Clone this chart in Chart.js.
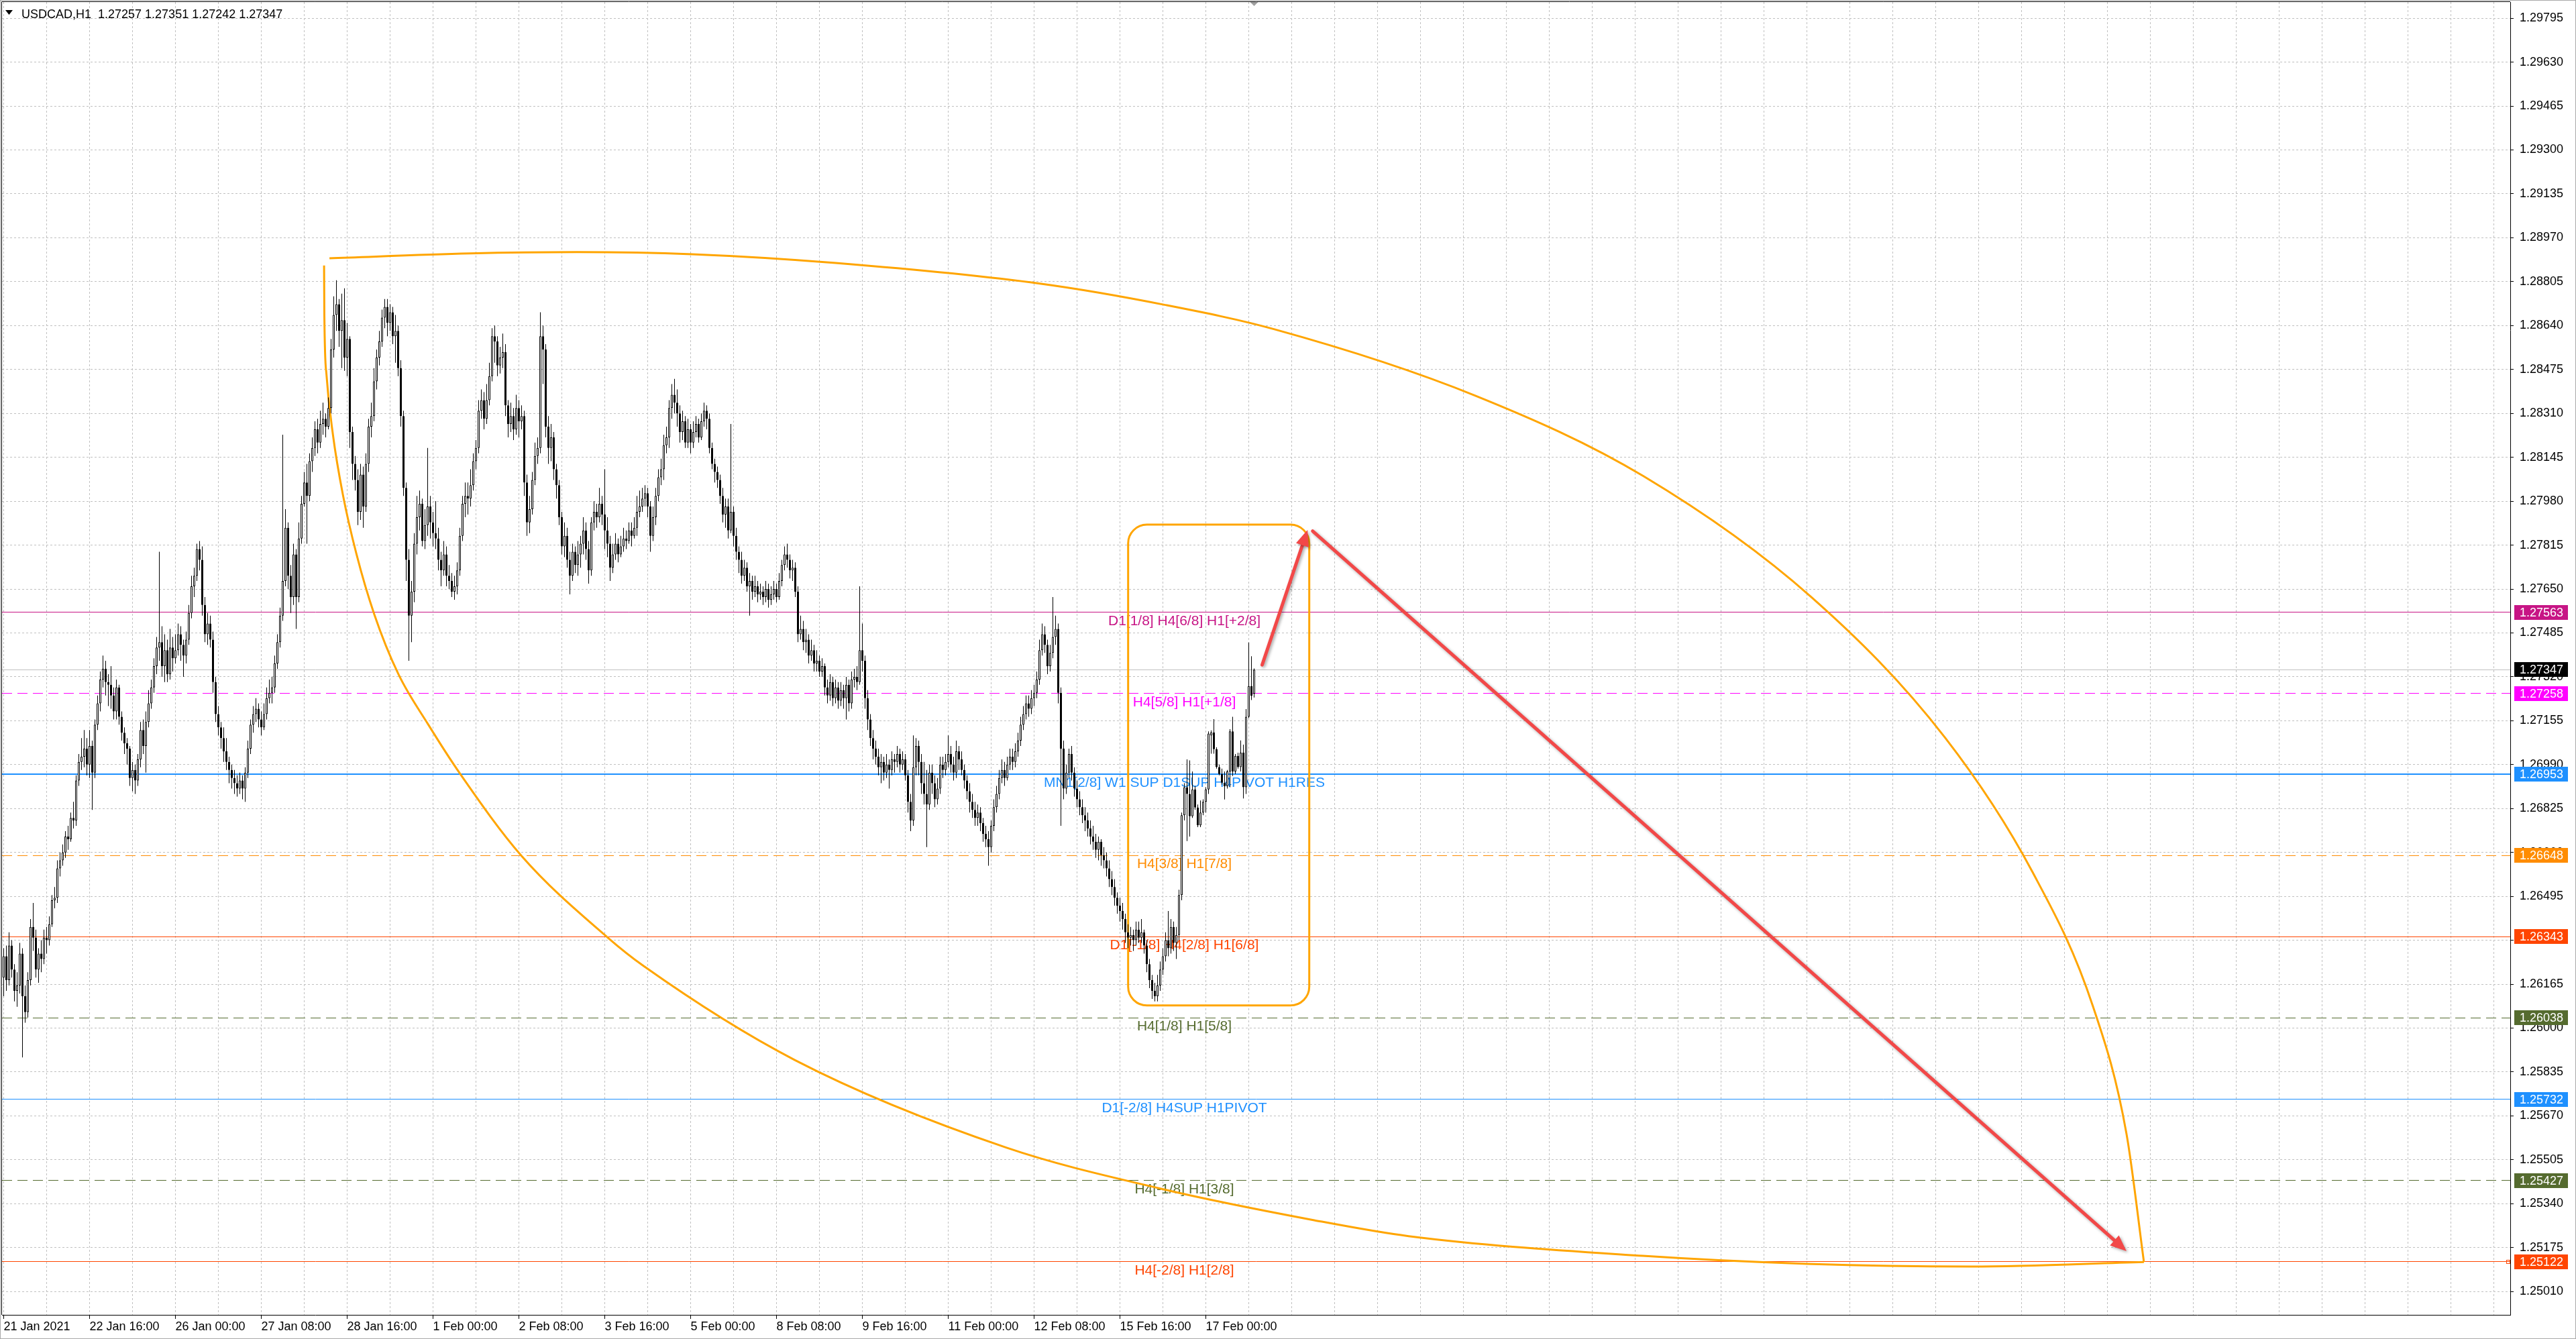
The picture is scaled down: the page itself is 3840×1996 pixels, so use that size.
<!DOCTYPE html>
<html><head><meta charset="utf-8">
<style>html,body{margin:0;padding:0;background:#fff;overflow:hidden}canvas{display:block}</style>
<script src="https://cdn.jsdelivr.net/npm/chart.js@4/dist/chart.umd.min.js"></script>
</head><body>
<canvas id="c" width="3840" height="1996"></canvas>
<script>
// ---------------- DATA ----------------
const SYMBOL = 'USDCAD,H1';
const PRICE_BASE = 1.25, PIP = 0.0001;   // candle values below are pips above 1.2500
const openPips = [
119,127,118,131,122,114,116,128,112,106,118,138,134,122,128,126,134,133,139,148,
149,160,163,166,172,171,179,178,193,200,202,205,199,206,196,214,222,231,235,230,
229,225,219,228,217,211,207,205,194,197,193,201,212,206,215,222,228,236,243,245,
236,242,233,243,239,242,248,244,240,246,256,266,270,280,276,259,248,252,246,230,
218,213,209,204,200,197,194,192,190,193,190,196,205,214,218,220,216,213,218,224,
226,228,237,245,255,268,288,270,262,278,262,284,297,305,300,313,318,325,320,327,
329,326,333,355,368,372,362,366,352,359,324,312,306,294,308,296,312,326,330,343,
352,358,367,371,365,369,360,362,348,330,303,276,255,264,282,292,297,283,289,296,
290,286,284,276,272,278,270,268,264,266,272,285,297,300,299,304,313,318,332,336,
329,336,345,360,358,349,352,354,334,327,330,325,333,328,330,305,290,295,306,315,
318,360,355,326,318,322,310,304,292,281,285,276,270,279,274,278,282,287,280,272,
290,294,292,297,293,287,282,273,278,282,278,281,284,283,287,285,288,294,296,299,
301,296,285,292,300,307,310,319,322,333,338,335,331,324,328,320,325,320,324,327,
322,328,332,329,318,312,309,306,300,293,296,287,294,285,279,276,270,273,266,268,
264,266,263,264,262,265,261,263,265,262,268,274,278,276,272,273,264,248,250,245,
246,240,242,237,238,234,236,228,225,230,224,228,223,227,224,229,222,231,232,230,
242,238,224,216,209,205,202,198,200,196,199,197,201,200,203,199,201,195,185,178,
198,206,200,192,188,184,196,192,186,190,199,197,200,203,199,196,204,201,197,193,
189,185,182,179,181,177,173,171,168,176,183,188,194,197,194,199,202,200,204,208,
214,218,222,220,224,226,231,242,248,244,236,241,247,250,226,205,190,196,203,196,
190,186,183,180,178,175,172,170,167,170,165,163,160,156,153,149,146,144,141,136,
134,135,133,137,134,136,131,124,118,114,112,116,122,127,133,130,138,132,135,150,
180,190.5,188,179.6,189.7,182.9,176.2,181,185,189.7,210,211.1,204.8,198.1,195.5,192.2,190.9,196.4,211.5,196.4,
202.3,198.1,203.5,190.5,217,228.5,225.7];
const highPips = [
130,131,136,133,124,121,132,130,116,121,141,147,137,130,133,137,138,142,150,153,
163,166,169,174,176,181,185,195,203,209,212,209,212,208,216,225,234,240,238,233,
236,228,231,229,219,213,209,206,200,199,203,215,216,219,227,231,239,247,279,251,
248,246,250,247,248,252,251,246,249,259,270,273,282,283,281,262,256,255,249,232,
221,215,213,209,202,199,197,195,196,195,198,208,216,221,224,222,219,222,228,231,
232,240,248,258,323,295,290,274,282,280,290,300,309,312,316,322,328,329,332,335,
331,337,359,375,381,374,376,378,365,360,326,315,310,312,311,316,329,335,348,355,
362,370,374,374,372,371,368,364,351,332,305,280,268,286,300,302,299,295,318,300,
294,298,288,279,283,281,274,271,270,275,288,300,305,305,310,316,321,336,340,339,
342,350,363,364,360,356,361,357,336,335,333,338,336,334,332,308,300,309,320,322,
369,364,357,330,327,324,312,306,294,290,288,279,282,281,283,285,292,290,283,292,
298,297,303,300,310,292,285,282,286,284,285,288,287,290,290,292,300,302,303,304,
303,298,296,303,310,314,323,326,336,342,344,340,334,332,330,329,327,328,330,329,
331,335,334,331,320,314,311,308,303,299,299,327,296,288,281,279,276,275,271,270,
270,268,267,266,268,267,266,268,267,271,276,281,282,278,276,275,266,255,253,250,
248,246,244,242,240,239,237,231,233,232,231,230,230,229,232,231,234,235,236,266,
252,240,227,218,212,208,205,203,202,203,201,204,203,206,205,204,203,197,188,210,
209,208,203,200,197,199,199,195,194,202,202,203,210,206,202,208,206,204,199,195,
192,188,185,184,183,179,176,174,178,186,191,197,201,200,202,205,205,207,211,217,
221,225,225,227,229,234,246,252,251,246,244,262,255,252,228,208,199,205,206,198,
193,189,186,183,181,178,176,173,172,171,168,166,163,159,156,151,149,147,143,139,
138,137,140,140,141,137,133,126,120,117,120,125,130,136,144,141,140,138,152,181,
192,201,200.6,196.4,191,184,185.5,186,190.5,211.5,211.9,216.1,205.5,199,197.5,196.4,197,212.3,217,203,
203.5,208.1,206.5,219.9,244.9,239.7,235.1];
const lowPips = [
112,114,116,119,110,108,113,89,102,104,116,129,119,117,121,124,128,131,138,145,
147,157,161,164,167,170,175,176,191,197,198,195,194,182,194,212,219,228,225,221,
220,216,216,214,208,203,199,191,189,188,191,198,203,196,213,220,226,233,238,232,
230,230,231,234,237,240,238,232,237,244,254,262,268,272,255,245,244,243,226,215,
210,205,200,197,192,190,188,187,188,186,185,194,203,211,215,213,210,212,216,222,
222,226,235,243,253,266,265,256,259,250,260,282,296,282,298,309,315,316,318,323,
322,325,331,352,362,356,348,347,345,318,306,302,289,291,288,294,309,322,328,340,
349,356,363,360,362,357,350,345,326,300,268,238,245,260,278,287,281,280,285,284,
281,280,272,266,270,266,265,262,261,263,270,283,292,293,296,302,310,316,329,325,
327,334,343,350,345,346,348,330,322,324,321,323,322,325,300,285,286,293,304,312,
316,342,322,312,313,306,299,289,278,277,273,263,268,271,270,273,278,276,267,270,
287,288,290,289,280,277,268,271,276,275,277,279,280,282,281,284,285,292,294,296,
292,279,283,289,298,304,306,316,318,329,331,326,320,321,318,318,316,318,322,320,
321,326,325,316,310,305,303,297,290,288,284,286,281,276,271,267,268,264,255,261,
262,260,261,259,260,258,259,261,260,261,266,272,273,269,268,262,245,246,242,241,
237,238,234,234,232,232,225,222,223,221,222,220,221,220,216,219,220,228,227,229,
234,220,212,206,201,199,195,192,193,194,190,195,196,198,196,197,193,181,174,176,
195,195,188,184,168,182,188,183,184,188,194,195,198,196,193,194,197,195,190,186,
181,179,176,176,174,170,168,161,166,174,181,186,192,191,193,197,197,198,202,206,
212,216,217,218,221,224,229,240,241,233,234,239,244,222,176,186,188,194,193,187,
183,180,177,174,172,169,167,164,163,161,160,157,153,150,146,143,140,137,132,130,
131,129,131,132,132,128,121,115,111,110,110,114,120,125,127,128,129,126,133,148,
178,170.3,172,179,182,175.5,175.5,180,181,188,203.1,203.1,197.5,195,191.5,185.9,190,190.5,194.7,195.5,
197.5,196.4,186.3,188,216.5,223.3,224.2];
const closePips = [
127,118,131,122,114,116,128,112,106,118,138,134,122,128,126,134,133,139,148,149,
160,163,166,172,171,179,178,193,200,202,205,199,206,196,214,222,231,235,230,229,
225,219,228,217,211,207,205,194,197,193,201,212,206,215,222,228,236,243,245,236,
242,233,243,239,242,248,244,240,246,256,266,270,280,276,259,248,252,246,230,218,
213,209,204,200,197,194,192,190,193,190,196,205,214,218,220,216,213,218,224,226,
228,237,245,255,268,288,270,262,278,262,284,297,305,300,313,318,325,320,327,329,
326,333,355,368,372,362,366,352,359,324,312,306,294,308,296,312,326,330,343,352,
358,367,371,365,369,360,362,348,330,303,276,255,264,282,292,297,283,289,296,290,
286,284,276,272,278,270,268,264,266,272,285,297,300,299,304,313,318,332,336,329,
336,345,360,358,349,352,354,334,327,330,325,333,328,330,305,290,295,306,315,318,
360,355,326,318,322,310,304,292,281,285,276,270,279,274,278,282,287,280,272,290,
294,292,297,293,287,282,273,278,282,278,281,284,283,287,285,288,294,296,299,301,
296,285,292,300,307,310,319,322,333,338,335,331,324,328,320,325,320,324,327,322,
328,332,329,318,312,309,306,300,293,296,287,294,285,279,276,270,273,266,268,264,
266,263,264,262,265,261,263,265,262,268,274,278,276,272,273,264,248,250,245,246,
240,242,237,238,234,236,228,225,230,224,228,223,227,224,229,222,231,232,230,242,
238,224,216,209,205,202,198,200,196,199,197,201,200,203,199,201,195,185,178,198,
206,200,192,188,184,196,192,186,190,199,197,200,203,199,196,204,201,197,193,189,
185,182,179,181,177,173,171,168,176,183,188,194,197,194,199,202,200,204,208,214,
218,222,220,224,226,231,242,248,244,236,241,247,250,226,205,190,196,203,196,190,
186,183,180,178,175,172,170,167,170,165,163,160,156,153,149,146,144,141,136,134,
135,133,137,134,136,131,124,118,114,112,116,122,127,133,130,138,132,135,150,180,
190.5,188,179.6,189.7,182.9,176.2,181,185,189.7,210.7,211.1,204.8,198.1,195.5,192.2,190.9,196.4,211.5,196.4,202.3,
198.1,203.5,190.5,217,228.5,224.9,234.7];

const timeLabels = ['21 Jan 2021','22 Jan 16:00','26 Jan 00:00','27 Jan 08:00','28 Jan 16:00','1 Feb 00:00',
  '2 Feb 08:00','3 Feb 16:00','5 Feb 00:00','8 Feb 08:00','9 Feb 16:00','11 Feb 00:00','12 Feb 08:00',
  '15 Feb 16:00','17 Feb 00:00'];
const BARS_PER_LABEL = 32, BARS_PER_GRID = 16;
const priceTicks = [1.25010,1.25175,1.25340,1.25505,1.25670,1.25835,1.26000,1.26165,1.26330,1.26495,
  1.26660,1.26825,1.26990,1.27155,1.27320,1.27485,1.27650,1.27815,1.27980,1.28145,1.28310,1.28475,
  1.28640,1.28805,1.28970,1.29135,1.29300,1.29465,1.29630,1.29795];

// horizontal level objects
const levelPrices = [1.27563, 1.27258, 1.26953, 1.26648, 1.26343, 1.26038, 1.25732, 1.25427, 1.25122];
const levelTexts = ['D1[1/8] H4[6/8] H1[+2/8]', 'H4[5/8] H1[+1/8]', 'MN1[2/8] W1 SUP D1SUP H4PIVOT H1RES',
  'H4[3/8] H1[7/8]', 'D1[-1/8] H4[2/8] H1[6/8]', 'H4[1/8] H1[5/8]', 'D1[-2/8] H4SUP H1PIVOT',
  'H4[-1/8] H1[3/8]', 'H4[-2/8] H1[2/8]'];
const LEVEL_TEXT_BAR = 440;

// drawn objects (bar index, price)
const boxBars = [419.05, 486.55];
const boxPrices = [1.27892, 1.26085];
const arrowFromBars = [469.0, 487.8];
const arrowFromPrices = [1.27365, 1.27868];
const arrowToBars = [485.9, 791.1];
const arrowToPrices = [1.27872, 1.25162];
const topCurveBars = [121.4, 173.6, 213.6, 256.6, 310.1, 386.6, 432.6, 473.6, 548.6, 611.1, 673.6, 723.6, 756.1, 778.6, 791.1, 797.6];
const topCurvePrices = [1.28893, 1.28911, 1.28916, 1.28908, 1.28875, 1.28797, 1.28718, 1.28626, 1.28376, 1.28074, 1.27620, 1.27090, 1.26586, 1.26082, 1.25603, 1.25121];
const bottomCurveBars = [119.4, 119.5, 120.3, 122.7, 126.4, 131.5, 138.1, 147.1, 158.2, 170.0, 192.9, 225.1, 238.5, 294.8, 373.6, 431.0, 488.4, 523.6, 610.9, 672.1, 733.4, 797.6];
const bottomCurvePrices = [1.28866, 1.28681, 1.28455, 1.28230, 1.28005, 1.27780, 1.27555, 1.27330, 1.27141, 1.26957, 1.26648, 1.26340, 1.26233, 1.25880, 1.25551, 1.25397, 1.25278, 1.25218, 1.25144, 1.25114, 1.25104, 1.25121];

// ---------------- STYLES ----------------
const FONT = '"Liberation Sans", Arial, sans-serif';
const levelStyles = [
  {color:'#C71585', width:1, dash:[]},
  {color:'#FF00FF', width:1, dash:[15,8]},
  {color:'#1E90FF', width:2, dash:[]},
  {color:'#FF8C00', width:1, dash:[15,8]},
  {color:'#FF4500', width:1, dash:[]},
  {color:'#556B2F', width:1, dash:[15,8]},
  {color:'#1E90FF', width:1, dash:[]},
  {color:'#556B2F', width:1, dash:[15,8]},
  {color:'#FF4500', width:1, dash:[]}
];
const ORANGE = '#FFA500', ARROW_RED = '#F24848';
const X_MIN = -0.625, X_MAX = 934.125;
const Y_MIN = 1.249223, Y_MAX = 1.298559;

// ---------------- BUILD ----------------
const N = closePips.length;
const price = p => PRICE_BASE + p * PIP;
const wickData = [], bodyData = [], bodyColors = [];
for (let i = 0; i < N; i++) {
  const o = price(openPips[i]), c = price(closePips[i]);
  wickData.push({x: i, y: [price(lowPips[i]), price(highPips[i])]});
  bodyData.push({x: i, y: [o, c]});
  bodyColors.push(c >= o ? '#FFFFFF' : '#000000');
}
const topCurve = topCurveBars.map((b, i) => ({x: b, y: topCurvePrices[i]}));
const bottomCurve = bottomCurveBars.map((b, i) => ({x: b, y: bottomCurvePrices[i]}));

function crisp(v, w) { return (w % 2 === 1) ? Math.round(v - 0.5) + 0.5 : Math.round(v); }
function hline(ctx, a, py, color, width, dash) {
  ctx.save(); ctx.strokeStyle = color; ctx.lineWidth = width; ctx.setLineDash(dash);
  ctx.beginPath(); ctx.moveTo(a.left, py); ctx.lineTo(a.right, py); ctx.stroke(); ctx.restore();
}
function roundRect(ctx, x, y, w, h, r) {
  ctx.beginPath();
  ctx.moveTo(x + r, y); ctx.lineTo(x + w - r, y); ctx.arcTo(x + w, y, x + w, y + r, r);
  ctx.lineTo(x + w, y + h - r); ctx.arcTo(x + w, y + h, x + w - r, y + h, r);
  ctx.lineTo(x + r, y + h); ctx.arcTo(x, y + h, x, y + h - r, r);
  ctx.lineTo(x, y + r); ctx.arcTo(x, y, x + r, y, r); ctx.closePath();
}
function drawArrow(ctx, x1, y1, x2, y2, col) {
  const ang = Math.atan2(y2 - y1, x2 - x1), L = 24, W = 10;
  const bx = x2 - L * Math.cos(ang), by = y2 - L * Math.sin(ang);
  ctx.save();
  ctx.shadowColor = 'rgba(0,0,0,0.35)'; ctx.shadowBlur = 4; ctx.shadowOffsetX = 2; ctx.shadowOffsetY = 2;
  ctx.strokeStyle = col; ctx.lineWidth = 5; ctx.lineCap = 'round';
  ctx.beginPath(); ctx.moveTo(x1, y1); ctx.lineTo(bx + 6 * Math.cos(ang), by + 6 * Math.sin(ang)); ctx.stroke();
  ctx.fillStyle = col; ctx.beginPath(); ctx.moveTo(x2, y2);
  ctx.lineTo(bx + W * Math.sin(ang), by - W * Math.cos(ang));
  ctx.lineTo(bx - W * Math.sin(ang), by + W * Math.cos(ang)); ctx.closePath(); ctx.fill();
  ctx.restore();
}

const objectsPlugin = {
  id: 'mt4Objects',
  beforeDatasetsDraw(chart) {
    const {ctx, chartArea: a, scales: {x, y}} = chart;
    ctx.save();
    ctx.beginPath(); ctx.rect(a.left, a.top, a.right - a.left, a.bottom - a.top); ctx.clip();
    hline(ctx, a, crisp(y.getPixelForValue(price(closePips[N - 1])), 1), '#C0C0C0', 1, []);
    levelPrices.forEach((p, i) => {
      const st = levelStyles[i];
      hline(ctx, a, crisp(y.getPixelForValue(p), st.width), st.color, st.width, st.dash);
    });
    ctx.font = '21px ' + FONT; ctx.textAlign = 'center'; ctx.textBaseline = 'alphabetic';
    const tx = x.getPixelForValue(LEVEL_TEXT_BAR);
    levelPrices.forEach((p, i) => {
      ctx.fillStyle = levelStyles[i].color;
      ctx.fillText(levelTexts[i], tx, Math.round(y.getPixelForValue(p)) + 19);
    });
    const rx1 = x.getPixelForValue(boxBars[0]), rx2 = x.getPixelForValue(boxBars[1]);
    const ry1 = y.getPixelForValue(boxPrices[0]), ry2 = y.getPixelForValue(boxPrices[1]);
    ctx.strokeStyle = ORANGE; ctx.lineWidth = 3;
    roundRect(ctx, rx1, ry1, rx2 - rx1, ry2 - ry1, 28); ctx.stroke();
    ctx.restore();
  },
  afterDatasetsDraw(chart) {
    const {ctx, chartArea: a, scales: {x, y}} = chart;
    ctx.save();
    ctx.beginPath(); ctx.rect(a.left, a.top, a.right - a.left, a.bottom - a.top); ctx.clip();
    for (let i = 0; i < arrowFromBars.length; i++) {
      drawArrow(ctx, x.getPixelForValue(arrowFromBars[i]), y.getPixelForValue(arrowFromPrices[i]),
        x.getPixelForValue(arrowToBars[i]), y.getPixelForValue(arrowToPrices[i]), ARROW_RED);
    }
    ctx.restore();
  },
  afterDraw(chart) {
    const {ctx, chartArea: a, scales: {x, y}} = chart;
    const W = chart.width, H = chart.height;
    ctx.save();
    ctx.strokeStyle = '#A8A8A8'; ctx.lineWidth = 1; ctx.strokeRect(0.5, 0.5, W - 1, H - 1);
    ctx.strokeStyle = '#000';
    ctx.beginPath(); ctx.moveTo(a.left - 0.5, a.bottom); ctx.lineTo(a.left - 0.5, a.top - 0.5); ctx.lineTo(a.right, a.top - 0.5); ctx.stroke();
    ctx.font = '18px ' + FONT; ctx.textAlign = 'left'; ctx.textBaseline = 'middle';
    const tags = levelPrices.map((p, i) => ({p, bg: levelStyles[i].color}));
    tags.push({p: price(closePips[N - 1]), bg: '#000000'});
    tags.forEach(t => {
      const py = Math.round(y.getPixelForValue(t.p));
      ctx.fillStyle = t.bg; ctx.fillRect(a.right + 6, py - 11, 80, 22);
      ctx.fillStyle = '#FFFFFF'; ctx.fillText(t.p.toFixed(5), a.right + 14, py + 1);
    });
    const sqY = Math.round(y.getPixelForValue(levelPrices[levelPrices.length - 1]));
    ctx.strokeStyle = '#FF4500'; ctx.strokeRect(a.right - 5.5, sqY - 2.5, 5, 5);
    ctx.fillStyle = '#000';
    ctx.beginPath(); ctx.moveTo(8, 15); ctx.lineTo(19, 15); ctx.lineTo(13.5, 22); ctx.closePath(); ctx.fill();
    const f = v => price(v).toFixed(5);
    ctx.textBaseline = 'alphabetic';
    ctx.fillText(SYMBOL + '  ' + [f(openPips[N-1]), f(highPips[N-1]), f(lowPips[N-1]), f(closePips[N-1])].join(' '), 32, 27);
    const sx = x.getPixelForValue(N - 1);
    ctx.fillStyle = '#A0A0A0';
    ctx.beginPath(); ctx.moveTo(sx - 6, a.top); ctx.lineTo(sx + 6, a.top); ctx.lineTo(sx, a.top + 6); ctx.closePath(); ctx.fill();
    ctx.restore();
  }
};

Chart.defaults.font.family = FONT;
Chart.defaults.font.size = 18;
Chart.defaults.color = '#000';

new Chart(document.getElementById('c'), {
  type: 'bar',
  data: {
    datasets: [
      {type: 'bar', data: bodyData, backgroundColor: bodyColors, borderColor: '#000', borderWidth: 1,
        borderSkipped: false, barThickness: 3, grouped: false, order: 1, inflateAmount: 0, minBarLength: 1},
      {type: 'bar', data: wickData, backgroundColor: '#000', borderWidth: 0,
        barThickness: 1, grouped: false, order: 2, inflateAmount: 0, minBarLength: 1},
      {type: 'line', data: topCurve, borderColor: ORANGE, borderWidth: 3, pointRadius: 0,
        cubicInterpolationMode: 'monotone', fill: false, order: 3},
      {type: 'line', data: bottomCurve, borderColor: ORANGE, borderWidth: 3, pointRadius: 0,
        cubicInterpolationMode: 'monotone', fill: false, order: 3}
    ]
  },
  options: {
    responsive: false, animation: false, devicePixelRatio: 1,
    layout: {padding: {left: 3, top: 3, right: 0, bottom: 0}},
    plugins: {legend: {display: false}, tooltip: {enabled: false}},
    scales: {
      x: {
        type: 'linear', min: X_MIN, max: X_MAX, offset: false, stacked: false,
        grid: {offset: false, color: '#C0C0C0', lineWidth: 1, tickLength: 6,
          tickColor: c => (c.tick && c.tick.value % BARS_PER_LABEL === 0 && c.tick.value / BARS_PER_LABEL < timeLabels.length) ? '#000' : 'rgba(0,0,0,0)'},
        border: {display: true, color: '#000', width: 1, dash: [3, 3]},
        afterBuildTicks: s => { const t = []; for (let v = 0; v <= X_MAX; v += BARS_PER_GRID) t.push({value: v}); s.ticks = t; },
        afterFit: s => { s.height = 36; s.paddingLeft = 0; s.paddingRight = 0; },
        ticks: {autoSkip: false, maxRotation: 0, minRotation: 0, align: 'start', padding: 1, color: '#000',
          callback: v => (v % BARS_PER_LABEL === 0 ? (timeLabels[v / BARS_PER_LABEL] || '') : '')}
      },
      y: {
        type: 'linear', position: 'right', min: Y_MIN, max: Y_MAX, stacked: false, beginAtZero: false,
        grid: {color: '#C0C0C0', lineWidth: 1, tickLength: 5, tickColor: '#000'},
        border: {display: true, color: '#000', width: 1, dash: [3, 3]},
        afterBuildTicks: s => { s.ticks = priceTicks.map(v => ({value: v})); },
        afterFit: s => { s.width = 98; s.paddingTop = 0; s.paddingBottom = 0; },
        ticks: {autoSkip: false, padding: 9, color: '#000', callback: v => v.toFixed(5)}
      }
    }
  },
  plugins: [objectsPlugin]
});
</script>
</body></html>
